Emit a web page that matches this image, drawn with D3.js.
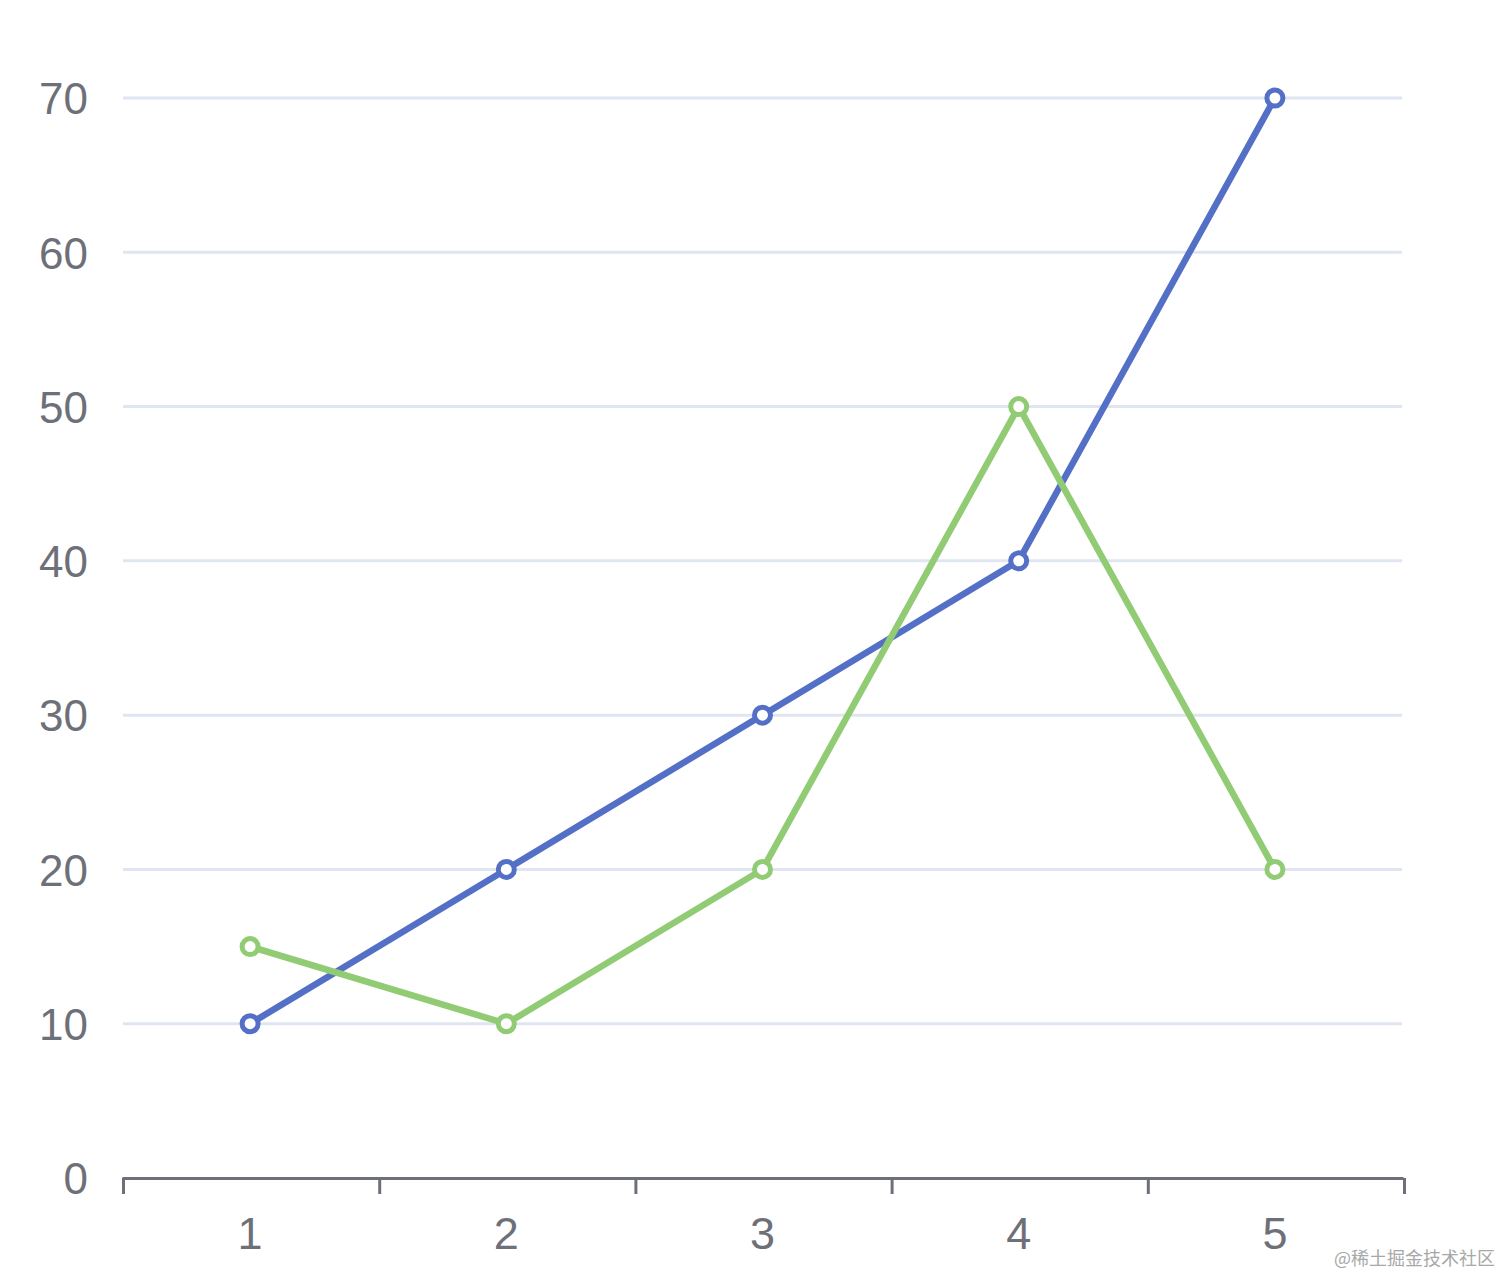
<!DOCTYPE html>
<html>
<head>
<meta charset="utf-8">
<script src="https://cdn.jsdelivr.net/npm/d3@7"></script>
<style>
  body { margin: 0; background: #fff; }
  svg { display: block; }
</style>
</head>
<body>
<div id="chart"></div>
<script>
// chart values
var categories = ["1", "2", "3", "4", "5"];
var seriesA = [10, 20, 30, 40, 70];
var seriesB = [15, 10, 20, 50, 20];
var yTicks = [0, 10, 20, 30, 40, 50, 60, 70];

var W = 1502, H = 1276;
var margin = {top: 98, right: 98, bottom: 98, left: 123};
var width = 1404 - margin.left,
    height = 1178 - margin.top;

var svg = d3.select("#chart").append("svg")
    .attr("width", W)
    .attr("height", H);

var g = svg.append("g")
    .attr("transform", "translate(" + margin.left + "," + margin.top + ")");

var xScale = d3.scaleBand().domain(categories).range([-1, width - 1]);
var yScale = d3.scaleLinear().domain([0, 70]).range([height, 0]);

// gridlines
g.append("g").selectAll("line")
    .data(yTicks.filter(function(d) { return d > 0; }))
    .enter().append("line")
    .attr("x1", 0).attr("x2", width - 2)
    .attr("y1", function(d) { return yScale(d); })
    .attr("y2", function(d) { return yScale(d); })
    .attr("stroke", "#e0e6f1")
    .attr("stroke-width", 3);

// y axis labels (no axis line)
var yAxis = d3.axisLeft(yScale).tickValues(yTicks).tickSize(0).tickPadding(35);
var yg = g.append("g").call(yAxis);
yg.select(".domain").remove();
yg.selectAll("text")
    .attr("fill", "#6e7079")
    .style("font-family", "'Liberation Sans', Arial, sans-serif")
    .style("font-size", "44px")
    .attr("dy", "0.36em");

// x axis
var xAxis = d3.axisBottom(xScale).tickSize(0).tickPadding(39);
var xg = g.append("g")
    .attr("transform", "translate(0," + height + ")")
    .call(xAxis);
xg.select(".domain").attr("stroke", "#6e7079").attr("stroke-width", 3);
xg.selectAll("text")
    .attr("fill", "#6e7079")
    .style("font-family", "'Liberation Sans', Arial, sans-serif")
    .style("font-size", "45px");
// boundary ticks
var bounds = categories.map(function(c) { return xScale(c); }).concat([width - 1]);
xg.selectAll("line.bt")
    .data(bounds)
    .enter().append("line")
    .attr("class", "bt")
    .attr("x1", function(d) { return d + 1.5; })
    .attr("x2", function(d) { return d + 1.5; })
    .attr("y1", 0).attr("y2", 16)
    .attr("stroke", "#6e7079")
    .attr("stroke-width", 3);

var cx = function(d, i) { return xScale(categories[i]) + xScale.bandwidth() / 2; };
var line = d3.line()
    .x(function(d, i) { return cx(d, i); })
    .y(function(d) { return yScale(d); });

function drawSeries(values, color) {
  g.append("path")
      .datum(values)
      .attr("d", line)
      .attr("fill", "none")
      .attr("stroke", color)
      .attr("stroke-width", 6.5)
      .attr("stroke-linejoin", "round");
  g.append("g").selectAll("circle")
      .data(values)
      .enter().append("circle")
      .attr("cx", cx)
      .attr("cy", function(d) { return yScale(d); })
      .attr("r", 8)
      .attr("fill", "#fff")
      .attr("stroke", color)
      .attr("stroke-width", 5);
}

drawSeries(seriesA, "#5470c6");
drawSeries(seriesB, "#91cc75");

// watermark
svg.append("text")
    .attr("x", 1495)
    .attr("y", 1265)
    .attr("text-anchor", "end")
    .attr("fill", "#a8a8a8")
    .style("font-family", "'Noto Sans CJK SC', sans-serif")
    .style("font-size", "18px")
    .text("@稀土掘金技术社区");
</script>
</body>
</html>
